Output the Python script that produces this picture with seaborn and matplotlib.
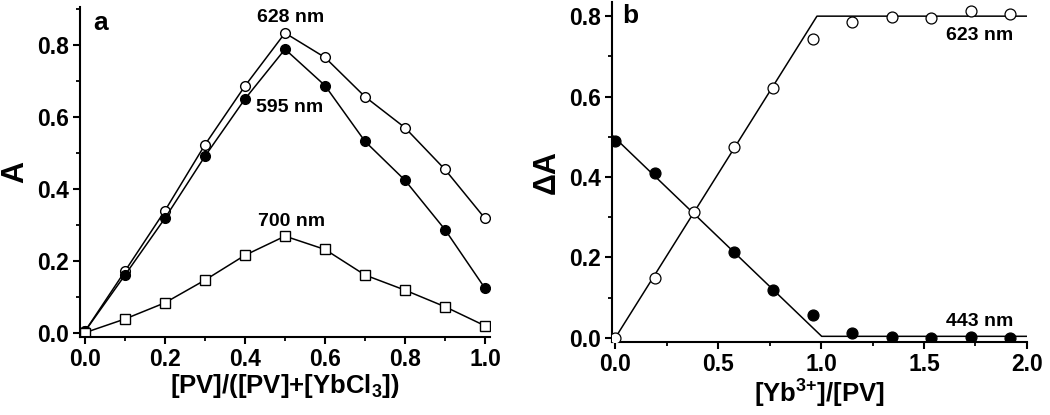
import numpy as np
import matplotlib
matplotlib.use("Agg")
import matplotlib.pyplot as plt
import seaborn as sns
from matplotlib.ticker import MultipleLocator

# panel a: job plot
mole_frac = [0.0, 0.1, 0.2, 0.3, 0.4, 0.5, 0.6, 0.7, 0.8, 0.9, 1.0]
a_628 = [0.005, 0.172, 0.340, 0.523, 0.686, 0.833, 0.765, 0.656, 0.570, 0.454, 0.318]
a_595 = [0.005, 0.161, 0.319, 0.491, 0.650, 0.788, 0.687, 0.532, 0.424, 0.287, 0.124]
a_700 = [0.001, 0.039, 0.084, 0.147, 0.216, 0.269, 0.232, 0.161, 0.119, 0.073, 0.020]

# panel b: molar ratio titration
ratio = [0.0, 0.192, 0.384, 0.576, 0.768, 0.96, 1.152, 1.344, 1.536, 1.728, 1.92]
d_623 = [0.0, 0.150, 0.313, 0.475, 0.622, 0.742, 0.786, 0.797, 0.796, 0.813, 0.806]
d_443 = [0.490, 0.411, np.nan, 0.214, 0.119, 0.058, 0.012, 0.002, 0.0, 0.003, 0.0]
fit_623_x = [0.0, 0.98, 2.0]
fit_623_y = [0.0, 0.80, 0.80]
fit_443_x = [-0.015, 1.003, 2.0]
fit_443_y = [0.504, 0.004, 0.004]

sns.set_style("ticks")
plt.rcParams.update({
    'font.family': ['Liberation Sans', 'DejaVu Sans'],
    'font.weight': 'bold',
    'axes.labelweight': 'bold',
    'text.color': 'black',
    'axes.labelcolor': 'black',
    'axes.edgecolor': 'black',
    'xtick.color': 'black',
    'ytick.color': 'black',
    'mathtext.fontset': 'custom',
    'mathtext.rm': 'Liberation Sans:bold',
    'mathtext.bf': 'Liberation Sans:bold',
    'mathtext.default': 'bf',
    'axes.linewidth': 1.5,
    'xtick.major.width': 1.5,
    'ytick.major.width': 1.5,
    'xtick.minor.width': 1.3,
    'ytick.minor.width': 1.3,
    'xtick.major.size': 5,
    'ytick.major.size': 5,
    'xtick.minor.size': 3,
    'ytick.minor.size': 3,
})

fig = plt.figure(figsize=(10.5, 4.15), dpi=100)
ax1 = fig.add_axes([0.0762, 0.188, 0.3905, 0.795])
ax2 = fig.add_axes([0.583, 0.176, 0.395, 0.819])

line_kw = dict(color='black', linewidth=1.1, markeredgecolor='black', markeredgewidth=1.0)

sns.lineplot(x=mole_frac, y=a_628, ax=ax1, marker='o', markersize=7,
             markerfacecolor='white', **line_kw)
sns.lineplot(x=mole_frac, y=a_595, ax=ax1, marker='o', markersize=7,
             markerfacecolor='black', **line_kw)
sns.lineplot(x=mole_frac, y=a_700, ax=ax1, marker='s', markersize=6.5,
             markerfacecolor='white', **line_kw)

ax1.set_xlim(-0.0125, 1.0125)
ax1.set_ylim(-0.011, 0.905)
ax1.xaxis.set_major_locator(MultipleLocator(0.2))
ax1.xaxis.set_minor_locator(MultipleLocator(0.1))
ax1.yaxis.set_major_locator(MultipleLocator(0.2))
ax1.yaxis.set_minor_locator(MultipleLocator(0.1))
ax1.set_xlabel('[PV]/([PV]+[YbCl$_{3}$])', fontsize=18.5, labelpad=1)
ax1.set_ylabel('A', fontsize=22, labelpad=5)
ax1.text(0.04, 0.862, 'a', fontsize=19, fontweight='bold', ha='center', va='center')
ax1.text(0.515, 0.876, '628 nm', fontsize=14, fontweight='bold', ha='center', va='center')
ax1.text(0.512, 0.626, '595 nm', fontsize=14, fontweight='bold', ha='center', va='center')
ax1.text(0.517, 0.311, '700 nm', fontsize=14, fontweight='bold', ha='center', va='center')

sns.lineplot(x=fit_623_x, y=fit_623_y, ax=ax2, color='black', linewidth=1.1)
sns.lineplot(x=fit_443_x, y=fit_443_y, ax=ax2, color='black', linewidth=1.1)
sns.scatterplot(x=ratio, y=d_623, ax=ax2, marker='o', s=62, facecolor='white',
                edgecolor='black', linewidth=0.9, zorder=3)
sns.scatterplot(x=ratio, y=d_443, ax=ax2, marker='o', s=62, color='black',
                edgecolor='black', linewidth=0.9, zorder=3)

ax2.set_xlim(-0.015, 2.0)
ax2.set_ylim(-0.01, 0.835)
ax2.xaxis.set_major_locator(MultipleLocator(0.5))
ax2.xaxis.set_minor_locator(MultipleLocator(0.25))
ax2.yaxis.set_major_locator(MultipleLocator(0.2))
ax2.yaxis.set_minor_locator(MultipleLocator(0.1))
ax2.set_xlabel('[Yb$^{3{+}}$]/[PV]', fontsize=18.5, labelpad=1)
ax2.set_ylabel('ΔA', fontsize=22, labelpad=5)
ax2.text(0.075, 0.8, 'b', fontsize=19, fontweight='bold', ha='center', va='center')
ax2.text(1.77, 0.753, '623 nm', fontsize=14, fontweight='bold', ha='center', va='center')
ax2.text(1.77, 0.04, '443 nm', fontsize=14, fontweight='bold', ha='center', va='center')

for ax in (ax1, ax2):
    sns.despine(ax=ax)
    ax.tick_params(which='both', direction='out', labelsize=16.5, pad=3)
    for lab in ax.get_xticklabels() + ax.get_yticklabels():
        lab.set_fontweight('bold')

fig.savefig('out.png', dpi=100)
